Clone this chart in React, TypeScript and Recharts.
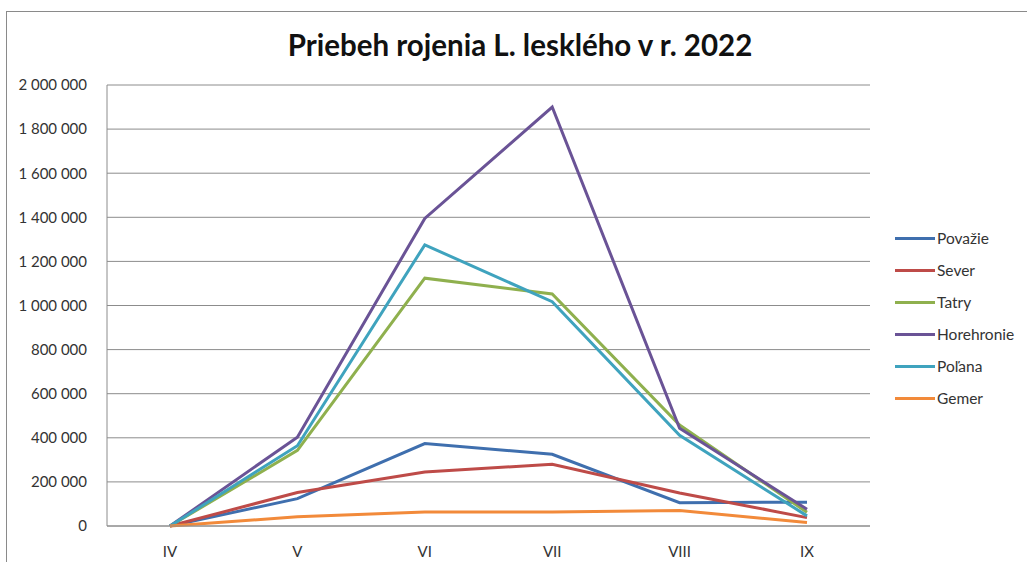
import { CartesianGrid, Line, LineChart, XAxis, YAxis } from "recharts";

// ============================================
// Data
// ============================================

const MONTHS = ["IV", "V", "VI", "VII", "VIII", "IX"];

const POVAZIE = [0, 124000, 374000, 325000, 106000, 108000];
const SEVER = [0, 152000, 245000, 280000, 150000, 38000];
const TATRY = [0, 343000, 1124000, 1052000, 458000, 62000];
const HOREHRONIE = [0, 403000, 1395000, 1900000, 443000, 76000];
const POLANA = [0, 364000, 1275000, 1017000, 411000, 46000];
const GEMER = [0, 42000, 63000, 63000, 70000, 16000];

const Y_TICKS = [0, 200000, 400000, 600000, 800000, 1000000, 1200000, 1400000, 1600000, 1800000, 2000000];

const SERIES = [
  { key: "Považie", values: POVAZIE, color: "#3F6FAE" },
  { key: "Sever", values: SEVER, color: "#BE4B48" },
  { key: "Tatry", values: TATRY, color: "#8FB04E" },
  { key: "Horehronie", values: HOREHRONIE, color: "#6A5396" },
  { key: "Poľana", values: POLANA, color: "#3FA3BE" },
  { key: "Gemer", values: GEMER, color: "#F28A3A" },
];

const FONT = "Lato, 'Open Sans', sans-serif";

// ============================================
// Helpers
// ============================================

function formatThousands(value: number): string {
  return String(value).replace(/\B(?=(\d{3})+(?!\d))/g, " ");
}

function ChartLegend() {
  return (
    <div
      style={{
        position: "absolute",
        left: 895,
        top: 222,
        fontFamily: FONT,
        fontSize: 15.5,
        color: "#333",
      }}
    >
      {SERIES.map((s) => (
        <div key={s.key} style={{ display: "flex", alignItems: "center", height: 32 }}>
          <span
            style={{
              display: "inline-block",
              width: 40,
              height: 3,
              backgroundColor: s.color,
              marginRight: 2,
            }}
          />
          <span>{s.key}</span>
        </div>
      ))}
    </div>
  );
}

// ============================================
// Component
// ============================================

export default function App() {
  const data = MONTHS.map((month, i) => {
    const row: Record<string, string | number> = { month };
    SERIES.forEach((s) => {
      row[s.key] = s.values[i];
    });
    return row;
  });

  return (
    <div
      style={{
        position: "absolute",
        left: 0,
        top: 0,
        width: 1027,
        height: 562,
        background: "#fff",
        overflow: "hidden",
      }}
    >
      {/* outer frame */}
      <div
        style={{
          position: "absolute",
          left: 6,
          top: 11,
          width: 1040,
          height: 600,
          border: "1px solid #8a8a8a",
        }}
      />
      <div
        style={{
          position: "absolute",
          left: 0,
          top: 27,
          width: 1040,
          textAlign: "center",
          fontFamily: FONT,
          fontWeight: 700,
          fontSize: 29.5,
          color: "#111",
        }}
      >
        Priebeh rojenia L. lesklého v r. 2022
      </div>
      <div style={{ position: "absolute", left: 0, top: 0 }}>
        <LineChart
          width={1027}
          height={562}
          data={data}
          margin={{ top: 85, right: 157, bottom: 6, left: 0 }}
        >
          <CartesianGrid stroke="#8c8c8c" vertical={false} />
          <XAxis
            dataKey="month"
            height={30}
            padding={{ left: 63, right: 63 }}
            axisLine={{ stroke: "#8c8c8c" }}
            tickLine={false}
            tickMargin={14}
            tick={{ fill: "#333", fontSize: 15, fontFamily: FONT }}
            interval={0}
          />
          <YAxis
            width={107}
            domain={[0, 2000000]}
            ticks={Y_TICKS}
            axisLine={{ stroke: "#8c8c8c" }}
            tickLine={false}
            tickMargin={14}
            tick={{ fill: "#333", fontSize: 15, fontFamily: FONT }}
            tickFormatter={formatThousands}
          />
          {SERIES.map((s) => (
            <Line
              key={s.key}
              dataKey={s.key}
              stroke={s.color}
              strokeWidth={3}
              dot={false}
              activeDot={false}
              isAnimationActive={false}
            />
          ))}
        </LineChart>
      </div>
      <ChartLegend />
    </div>
  );
}
